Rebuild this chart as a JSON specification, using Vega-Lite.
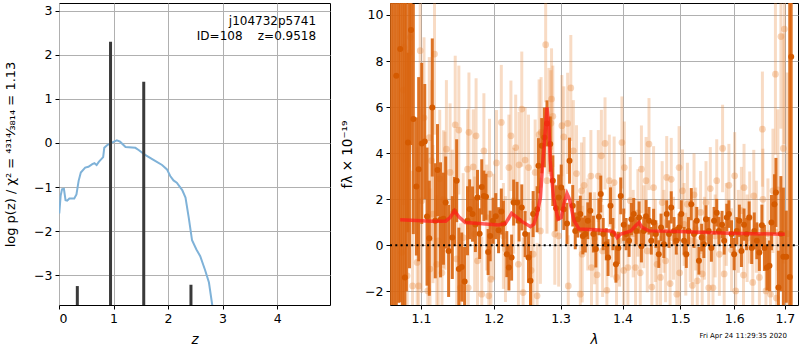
{
  "$schema": "https://vega.github.io/schema/vega-lite/v6.json",
  "padding": {"left": 4, "top": 2, "right": 0, "bottom": 0},
  "bounds": "flush",
  "spacing": 60,
  "config": {
    "font": "DejaVu Sans",
    "view": {"stroke": "black", "strokeWidth": 1},
    "axis": {"grid": true, "gridColor": "#b0b0b0", "gridWidth": 1, "domain": false, "tickColor": "black", "tickSize": 4, "labelColor": "black", "labelFontSize": 12.5, "labelPadding": 3, "titleFontSize": 13.5, "titleFontWeight": "normal", "titleColor": "black"}
  },
  "datasets": {
    "pz": [
      {"z":0.005,"v":-1.6},{"z":0.03,"v":-1.2},{"z":0.055,"v":-1.05},{"z":0.09,"v":-1.04},{"z":0.12,"v":-1.3},{"z":0.15,"v":-1.31},{"z":0.19,"v":-1.26},{"z":0.28,"v":-1.26},{"z":0.32,"v":-1.17},{"z":0.36,"v":-0.86},{"z":0.4,"v":-0.67},{"z":0.48,"v":-0.56},{"z":0.54,"v":-0.54},{"z":0.61,"v":-0.48},{"z":0.65,"v":-0.46},{"z":0.69,"v":-0.5},{"z":0.73,"v":-0.43},{"z":0.81,"v":-0.32},{"z":0.83,"v":-0.11},{"z":0.88,"v":-0.05},{"z":0.97,"v":0.01},{"z":1.06,"v":0.06},{"z":1.12,"v":0.03},{"z":1.22,"v":-0.09},{"z":1.4,"v":-0.11},{"z":1.46,"v":-0.16},{"z":1.58,"v":-0.27},{"z":1.74,"v":-0.39},{"z":1.89,"v":-0.5},{"z":1.98,"v":-0.6},{"z":2.04,"v":-0.75},{"z":2.1,"v":-0.85},{"z":2.16,"v":-0.9},{"z":2.26,"v":-1.07},{"z":2.32,"v":-1.24},{"z":2.38,"v":-1.7},{"z":2.44,"v":-2.21},{"z":2.52,"v":-2.42},{"z":2.59,"v":-2.57},{"z":2.68,"v":-2.89},{"z":2.75,"v":-3.17},{"z":2.81,"v":-3.68},{"z":2.86,"v":-4.1}
    ],
    "peaks": [
      {"z":0.336,"v":-3.25,"b":-4.5},{"z":0.945,"v":2.3,"b":-4.5},{"z":1.554,"v":1.39,"b":-4.5},{"z":2.42,"v":-3.22,"b":-4.5}
    ],
    "info": [
      {"z":4.716,"v":2.78,"t":"j104732p5741"},{"z":4.716,"v":2.44,"t":"ID=108\u00a0\u00a0\u00a0\u00a0z=0.9518"}
    ],
    "dark": [
      {"l":1.062,"f":11,"e":14},{"l":1.065,"f":12,"e":15},{"l":1.068,"f":7.36,"e":10},{"l":1.071,"f":11.5,"e":14},{"l":1.073,"f":8.52,"e":11},{"l":1.076,"f":13,"e":16},{"l":1.079,"f":-1.41,"e":12},{"l":1.081,"f":12,"e":14},{"l":1.083,"f":4.46,"e":3.9},{"l":1.085,"f":11,"e":12},{"l":1.087,"f":9.35,"e":5},{"l":1.09,"f":5.48,"e":5},{"l":1.094,"f":2.55,"e":3},{"l":1.097,"f":3.3,"e":4},{"l":1.101,"f":4.42,"e":3.5},{"l":1.105,"f":4.5,"e":2.5},{"l":1.108,"f":1.24,"e":3},{"l":1.111,"f":0.3,"e":2.5},{"l":1.115,"f":5.98,"e":3},{"l":1.119,"f":1.06,"e":2.5},{"l":1.122,"f":3.26,"e":2},{"l":1.126,"f":1.1,"e":2.5},{"l":1.13,"f":1.15,"e":2},{"l":1.133,"f":1.85,"e":2},{"l":1.137,"f":-0.25,"e":2},{"l":1.142,"f":0.33,"e":1.8},{"l":1.145,"f":1.46,"e":1.5},{"l":1.148,"f":2.8,"e":1.8},{"l":1.151,"f":-1.04,"e":1.8},{"l":1.155,"f":-0.95,"e":1.5},{"l":1.159,"f":-1.58,"e":1.5},{"l":1.163,"f":1.06,"e":1.5},{"l":1.166,"f":1.56,"e":1.3},{"l":1.17,"f":1.35,"e":1.2},{"l":1.174,"f":0.9,"e":1.2},{"l":1.177,"f":2.07,"e":1.2},{"l":1.18,"f":0.5,"e":1.1},{"l":1.183,"f":2.53,"e":1.2},{"l":1.186,"f":2.14,"e":1.1},{"l":1.189,"f":2.1,"e":1},{"l":1.192,"f":-0.3,"e":1},{"l":1.195,"f":0.4,"e":1.1},{"l":1.199,"f":1.06,"e":1},{"l":1.203,"f":1.26,"e":1},{"l":1.207,"f":0.65,"e":1},{"l":1.211,"f":1.46,"e":1},{"l":1.214,"f":0.93,"e":1},{"l":1.219,"f":-0.39,"e":1},{"l":1.222,"f":-0.97,"e":1},{"l":1.226,"f":-0.54,"e":1},{"l":1.229,"f":1.85,"e":1},{"l":1.234,"f":1.85,"e":0.9},{"l":1.237,"f":1.06,"e":0.9},{"l":1.241,"f":1.64,"e":1},{"l":1.246,"f":0.48,"e":1},{"l":1.251,"f":-0.54,"e":1.1},{"l":1.254,"f":-1.55,"e":1.3},{"l":1.258,"f":1.35,"e":1},{"l":1.264,"f":1.56,"e":1},{"l":1.266,"f":3.45,"e":1.2},{"l":1.271,"f":4.32,"e":1.2},{"l":1.275,"f":4.68,"e":1.3},{"l":1.279,"f":5.29,"e":1},{"l":1.284,"f":4.39,"e":1.2},{"l":1.288,"f":2.8,"e":1.1},{"l":1.293,"f":1.6,"e":1},{"l":1.297,"f":2.07,"e":1},{"l":1.301,"f":2.5,"e":1},{"l":1.305,"f":1.56,"e":0.9},{"l":1.31,"f":0.94,"e":0.9},{"l":1.314,"f":3.67,"e":1},{"l":1.319,"f":1.71,"e":0.9},{"l":1.323,"f":0.62,"e":0.8},{"l":1.327,"f":1.13,"e":0.8},{"l":1.331,"f":1.35,"e":0.8},{"l":1.335,"f":0.4,"e":0.8},{"l":1.339,"f":0.48,"e":0.8},{"l":1.343,"f":1.06,"e":0.8},{"l":1.347,"f":1.49,"e":0.8},{"l":1.352,"f":0.48,"e":0.8},{"l":1.356,"f":-0.17,"e":0.8},{"l":1.361,"f":1.23,"e":0.8},{"l":1.364,"f":2.22,"e":0.8},{"l":1.368,"f":0.48,"e":0.7},{"l":1.373,"f":0.04,"e":0.7},{"l":1.376,"f":-0.54,"e":0.8},{"l":1.38,"f":1.71,"e":0.8},{"l":1.384,"f":0.48,"e":0.7},{"l":1.389,"f":-0.83,"e":0.8},{"l":1.393,"f":-0.12,"e":0.7},{"l":1.397,"f":2.14,"e":0.8},{"l":1.402,"f":0.89,"e":0.7},{"l":1.406,"f":0.48,"e":0.7},{"l":1.411,"f":0.19,"e":0.7},{"l":1.415,"f":1.13,"e":0.7},{"l":1.419,"f":1.35,"e":0.7},{"l":1.423,"f":0.62,"e":0.6},{"l":1.428,"f":1.2,"e":0.7},{"l":1.432,"f":-0.05,"e":0.7},{"l":1.436,"f":0.62,"e":0.6},{"l":1.44,"f":1.26,"e":0.7},{"l":1.445,"f":1.06,"e":0.6},{"l":1.449,"f":0.19,"e":0.6},{"l":1.453,"f":0.98,"e":0.6},{"l":1.457,"f":0.48,"e":0.6},{"l":1.462,"f":-0.39,"e":0.6},{"l":1.466,"f":0.77,"e":0.6},{"l":1.471,"f":0.04,"e":0.6},{"l":1.476,"f":1.35,"e":0.6},{"l":1.48,"f":0.48,"e":0.6},{"l":1.484,"f":1.64,"e":0.7},{"l":1.489,"f":0.62,"e":0.6},{"l":1.493,"f":0.19,"e":0.6},{"l":1.498,"f":0.77,"e":0.6},{"l":1.502,"f":1.35,"e":0.6},{"l":1.507,"f":0.19,"e":0.6},{"l":1.511,"f":-0.39,"e":0.6},{"l":1.515,"f":0.62,"e":0.6},{"l":1.52,"f":1.78,"e":0.7},{"l":1.525,"f":0.48,"e":0.6},{"l":1.53,"f":1.06,"e":0.6},{"l":1.534,"f":-0.68,"e":0.6},{"l":1.539,"f":0.33,"e":0.6},{"l":1.543,"f":0.04,"e":0.6},{"l":1.547,"f":1.13,"e":0.6},{"l":1.552,"f":0.62,"e":0.6},{"l":1.557,"f":-0.12,"e":0.6},{"l":1.562,"f":1.06,"e":0.6},{"l":1.567,"f":1.41,"e":0.6},{"l":1.571,"f":0.62,"e":0.6},{"l":1.577,"f":0.89,"e":0.6},{"l":1.581,"f":0.19,"e":0.6},{"l":1.586,"f":1.2,"e":0.6},{"l":1.59,"f":1.35,"e":0.6},{"l":1.595,"f":0.48,"e":0.6},{"l":1.6,"f":-0.39,"e":0.7},{"l":1.605,"f":0.62,"e":0.6},{"l":1.61,"f":1.06,"e":0.7},{"l":1.614,"f":-0.25,"e":0.7},{"l":1.619,"f":0.89,"e":0.7},{"l":1.624,"f":0.48,"e":0.7},{"l":1.629,"f":1.2,"e":0.7},{"l":1.634,"f":-0.12,"e":0.7},{"l":1.639,"f":0.62,"e":0.8},{"l":1.644,"f":0.19,"e":0.8},{"l":1.649,"f":-0.32,"e":0.8},{"l":1.654,"f":0.86,"e":0.9},{"l":1.659,"f":-0.12,"e":1},{"l":1.664,"f":-0.97,"e":1},{"l":1.669,"f":-0.9,"e":1.1},{"l":1.673,"f":0.98,"e":1.2},{"l":1.679,"f":1.78,"e":1.3},{"l":1.682,"f":2.29,"e":1.5},{"l":1.687,"f":-1.84,"e":1.6},{"l":1.692,"f":0.5,"e":2.5},{"l":1.697,"f":-0.5,"e":3},{"l":1.703,"f":-0.5,"e":2},{"l":1.71,"f":-1.38,"e":14},{"l":1.713,"f":8.19,"e":14}
    ],
    "light": [
      {"l":1.075,"f":-0.32,"e":6},{"l":1.077,"f":6.74,"e":5},{"l":1.078,"f":8.6,"e":5},{"l":1.082,"f":-1.33,"e":6},{"l":1.085,"f":8.37,"e":5},{"l":1.086,"f":9.03,"e":5},{"l":1.089,"f":-1.77,"e":5},{"l":1.095,"f":-0.75,"e":5},{"l":1.097,"f":-1.77,"e":5},{"l":1.099,"f":8.45,"e":4},{"l":1.101,"f":1.93,"e":4},{"l":1.104,"f":5.53,"e":3.5},{"l":1.109,"f":-1.99,"e":3.5},{"l":1.111,"f":4.67,"e":3.5},{"l":1.112,"f":-1.04,"e":3.5},{"l":1.114,"f":3.67,"e":3.5},{"l":1.116,"f":1.35,"e":3},{"l":1.118,"f":8.3,"e":3.5},{"l":1.121,"f":-0.83,"e":3},{"l":1.123,"f":0.19,"e":3},{"l":1.125,"f":2.88,"e":3},{"l":1.128,"f":-1.2,"e":3},{"l":1.13,"f":1.99,"e":3},{"l":1.132,"f":1.93,"e":3},{"l":1.134,"f":4.17,"e":3},{"l":1.139,"f":3.16,"e":3},{"l":1.142,"f":1.35,"e":2.8},{"l":1.146,"f":5.23,"e":3},{"l":1.148,"f":-0.6,"e":2.8},{"l":1.151,"f":5,"e":2.8},{"l":1.153,"f":-1.85,"e":2.8},{"l":1.157,"f":0.33,"e":2.8},{"l":1.163,"f":3.3,"e":2.6},{"l":1.164,"f":-1.85,"e":2.6},{"l":1.165,"f":4.9,"e":2.6},{"l":1.171,"f":3.4,"e":2.5},{"l":1.173,"f":0.48,"e":2.5},{"l":1.175,"f":4.75,"e":2.5},{"l":1.177,"f":-0.68,"e":2.5},{"l":1.183,"f":-2.13,"e":2.5},{"l":1.186,"f":4.1,"e":2.5},{"l":1.19,"f":1.2,"e":2.3},{"l":1.193,"f":-2.2,"e":2.5},{"l":1.194,"f":3.09,"e":2.4},{"l":1.196,"f":-1.48,"e":2.3},{"l":1.2,"f":0.8,"e":2.3},{"l":1.204,"f":3.57,"e":2.3},{"l":1.211,"f":5.33,"e":2.5},{"l":1.214,"f":0.4,"e":2.3},{"l":1.217,"f":-0.17,"e":2.3},{"l":1.222,"f":3.37,"e":2.3},{"l":1.225,"f":4.75,"e":2.4},{"l":1.229,"f":1.93,"e":2.3},{"l":1.232,"f":4.24,"e":2.3},{"l":1.236,"f":-0.83,"e":2.3},{"l":1.237,"f":3.49,"e":2.3},{"l":1.241,"f":5.91,"e":2.5},{"l":1.243,"f":-2.06,"e":2.4},{"l":1.246,"f":3.7,"e":2.3},{"l":1.251,"f":3.37,"e":2.3},{"l":1.255,"f":-1.1,"e":2.3},{"l":1.258,"f":-0.39,"e":2.3},{"l":1.261,"f":3.16,"e":2.3},{"l":1.264,"f":-2.2,"e":2.3},{"l":1.267,"f":4.8,"e":2.4},{"l":1.269,"f":0.62,"e":2.3},{"l":1.27,"f":4.9,"e":2.4},{"l":1.277,"f":8.71,"e":2.5},{"l":1.279,"f":2.8,"e":2.3},{"l":1.282,"f":5.4,"e":2.3},{"l":1.285,"f":5.3,"e":2.3},{"l":1.286,"f":6.35,"e":2.2},{"l":1.288,"f":5.6,"e":2.2},{"l":1.291,"f":0.48,"e":2.2},{"l":1.297,"f":0.4,"e":2.2},{"l":1.302,"f":5.19,"e":2.2},{"l":1.305,"f":4.7,"e":2.2},{"l":1.311,"f":5.29,"e":2.2},{"l":1.312,"f":-1.77,"e":2.2},{"l":1.316,"f":6.83,"e":2.3},{"l":1.32,"f":4.1,"e":2.2},{"l":1.325,"f":3.11,"e":2.1},{"l":1.331,"f":-2.13,"e":2.1},{"l":1.333,"f":2.36,"e":2.1},{"l":1.334,"f":-0.39,"e":2.1},{"l":1.337,"f":2.6,"e":2.1},{"l":1.343,"f":0.9,"e":2},{"l":1.348,"f":3,"e":2},{"l":1.349,"f":-0.97,"e":2},{"l":1.354,"f":0.3,"e":2},{"l":1.358,"f":-1.29,"e":2},{"l":1.36,"f":3,"e":2},{"l":1.365,"f":3.88,"e":2},{"l":1.367,"f":-0.25,"e":2},{"l":1.371,"f":4.42,"e":2},{"l":1.374,"f":-1.96,"e":2},{"l":1.378,"f":2.8,"e":2},{"l":1.382,"f":0.6,"e":2},{"l":1.386,"f":2.72,"e":2},{"l":1.39,"f":-1.4,"e":2},{"l":1.395,"f":0.2,"e":2},{"l":1.399,"f":4.46,"e":2},{"l":1.402,"f":-1.1,"e":2},{"l":1.403,"f":3.37,"e":2},{"l":1.409,"f":-0.97,"e":1.9},{"l":1.413,"f":1.93,"e":1.9},{"l":1.418,"f":0.5,"e":1.9},{"l":1.422,"f":-0.97,"e":1.9},{"l":1.426,"f":1.4,"e":1.9},{"l":1.43,"f":-1.2,"e":1.9},{"l":1.432,"f":3.3,"e":1.9},{"l":1.436,"f":0.8,"e":1.8},{"l":1.44,"f":2.8,"e":1.9},{"l":1.442,"f":-0.25,"e":1.8},{"l":1.445,"f":4.39,"e":2},{"l":1.45,"f":-1.82,"e":1.8},{"l":1.453,"f":2.5,"e":1.8},{"l":1.456,"f":0.2,"e":1.8},{"l":1.459,"f":-0.83,"e":1.8},{"l":1.465,"f":-1.4,"e":1.8},{"l":1.468,"f":1.85,"e":1.8},{"l":1.471,"f":0.6,"e":1.8},{"l":1.474,"f":-0.68,"e":1.8},{"l":1.476,"f":2.94,"e":1.8},{"l":1.482,"f":-1.67,"e":1.8},{"l":1.484,"f":2.86,"e":1.8},{"l":1.488,"f":0.3,"e":1.8},{"l":1.494,"f":-2.13,"e":1.8},{"l":1.498,"f":3.37,"e":1.8},{"l":1.499,"f":-1.2,"e":1.8},{"l":1.504,"f":2.36,"e":1.8},{"l":1.507,"f":0.9,"e":1.8},{"l":1.51,"f":-0.39,"e":1.8},{"l":1.513,"f":1.78,"e":1.8},{"l":1.518,"f":0.2,"e":1.8},{"l":1.522,"f":-1.75,"e":1.8},{"l":1.525,"f":2.19,"e":1.8},{"l":1.528,"f":0.7,"e":1.8},{"l":1.531,"f":-1.55,"e":1.8},{"l":1.537,"f":1.42,"e":1.8},{"l":1.54,"f":-1.25,"e":1.8},{"l":1.544,"f":0.3,"e":1.8},{"l":1.547,"f":1.85,"e":1.8},{"l":1.552,"f":-1.85,"e":1.8},{"l":1.555,"f":2.46,"e":1.8},{"l":1.56,"f":-1.85,"e":1.8},{"l":1.564,"f":0.4,"e":1.8},{"l":1.567,"f":2.8,"e":1.8},{"l":1.572,"f":-0.4,"e":1.8},{"l":1.578,"f":4.2,"e":1.9},{"l":1.581,"f":-1.25,"e":1.8},{"l":1.585,"f":0.9,"e":1.8},{"l":1.59,"f":2.6,"e":1.8},{"l":1.595,"f":-0.2,"e":1.8},{"l":1.601,"f":3.01,"e":1.9},{"l":1.603,"f":-1.99,"e":1.8},{"l":1.608,"f":0.6,"e":1.8},{"l":1.614,"f":1.5,"e":1.9},{"l":1.618,"f":-1.3,"e":1.9},{"l":1.619,"f":2.5,"e":1.9},{"l":1.625,"f":0.3,"e":1.9},{"l":1.63,"f":1.2,"e":2},{"l":1.636,"f":-1.62,"e":2},{"l":1.638,"f":2.14,"e":2},{"l":1.643,"f":0.8,"e":2},{"l":1.649,"f":-1.4,"e":2.1},{"l":1.655,"f":5.04,"e":2.5},{"l":1.656,"f":1.99,"e":2.2},{"l":1.662,"f":-1.99,"e":2.3},{"l":1.666,"f":0.5,"e":2.4},{"l":1.671,"f":-2.13,"e":2.5},{"l":1.676,"f":2.36,"e":2.7},{"l":1.681,"f":7.43,"e":3.5},{"l":1.683,"f":-2.3,"e":3},{"l":1.686,"f":2.4,"e":3.5},{"l":1.692,"f":9.06,"e":4},{"l":1.697,"f":4.2,"e":5},{"l":1.699,"f":9.39,"e":5},{"l":1.705,"f":0.5,"e":7}
    ],
    "model": [
      {"l":1.073,"f":1.1},{"l":1.115,"f":1.04},{"l":1.133,"f":1.04},{"l":1.139,"f":1.2},{"l":1.145,"f":1.49},{"l":1.151,"f":1.23},{"l":1.16,"f":0.98},{"l":1.179,"f":0.94},{"l":1.207,"f":0.88},{"l":1.217,"f":0.94},{"l":1.226,"f":1.38},{"l":1.232,"f":1.25},{"l":1.241,"f":1.03},{"l":1.254,"f":0.8},{"l":1.259,"f":0.91},{"l":1.264,"f":1.35},{"l":1.269,"f":2.07},{"l":1.272,"f":3.37},{"l":1.276,"f":4.83},{"l":1.279,"f":5.98},{"l":1.282,"f":5.11},{"l":1.284,"f":3.67},{"l":1.289,"f":2.07},{"l":1.296,"f":1.13},{"l":1.301,"f":1.2},{"l":1.305,"f":1.78},{"l":1.31,"f":2.24},{"l":1.314,"f":1.99},{"l":1.321,"f":1.06},{"l":1.329,"f":0.7},{"l":1.355,"f":0.67},{"l":1.38,"f":0.62},{"l":1.386,"f":0.55},{"l":1.391,"f":0.33},{"l":1.397,"f":0.48},{"l":1.414,"f":0.62},{"l":1.422,"f":0.84},{"l":1.428,"f":0.98},{"l":1.433,"f":0.77},{"l":1.445,"f":0.62},{"l":1.498,"f":0.59},{"l":1.59,"f":0.52},{"l":1.7,"f":0.47}
    ],
    "zero": [{"l":1.06,"f":0},{"l":1.727,"f":0}]
  },
  "hconcat": [
    {
      "width": 271,
      "height": 302,
      "encoding": {
        "x": {"field": "z", "type": "quantitative", "scale": {"domain": [0, 4.97], "nice": false, "zero": false}, "axis": {"values": [0,1,2,3,4], "title": "z", "titleFontStyle": "italic", "titlePadding": 8}},
        "y": {"field": "v", "type": "quantitative", "scale": {"domain": [-3.68, 3.18], "nice": false, "zero": false}, "axis": {"values": [-3,-2,-1,0,1,2,3], "title": "log p(z) / χ² = ⁴³¹⁴⁄₃₈₁₄ = 1.13", "titleFontSize": 13, "titlePadding": 16}}
      },
      "layer": [
        {"data": {"name": "pz"}, "mark": {"type": "line", "color": "#7fb2d8", "strokeWidth": 2, "clip": true}},
        {"data": {"name": "peaks"}, "mark": {"type": "rule", "color": "#3a3a3a", "strokeWidth": 3, "clip": true}, "encoding": {"y2": {"field": "b"}}},
        {"data": {"name": "info"}, "mark": {"type": "text", "align": "right", "baseline": "middle", "fontSize": 12, "color": "black"}, "encoding": {"text": {"field": "t"}}}
      ]
    },
    {
      "width": 408,
      "height": 302,
      "title": {"text": "Fri Apr 24 11:29:35 2020", "orient": "bottom", "anchor": "end", "frame": "group", "fontSize": 7, "fontWeight": "normal", "color": "black", "offset": -14, "dx": -11},
      "encoding": {
        "x": {"field": "l", "type": "quantitative", "scale": {"type": "log", "domain": [1.06, 1.727], "nice": false, "zero": false}, "axis": {"values": [1.1,1.2,1.3,1.4,1.5,1.6,1.7], "format": ".1f", "title": "λ", "titleFontStyle": "italic", "titlePadding": 8}},
        "y": {"field": "f", "type": "quantitative", "scale": {"domain": [-2.6, 10.52], "nice": false, "zero": false}, "axis": {"values": [-2,0,2,4,6,8,10], "title": "fλ × 10⁻¹⁹", "titlePadding": 10}}
      },
      "layer": [
        {"data": {"name": "light"}, "mark": {"type": "errorbar", "color": "#e8873a", "opacity": 0.3, "thickness": 3, "clip": true}, "encoding": {"yError": {"field": "e"}}},
        {"data": {"name": "light"}, "mark": {"type": "circle", "color": "#e8873a", "opacity": 0.35, "size": 45, "clip": true}},
        {"data": {"name": "dark"}, "mark": {"type": "errorbar", "color": "#d9650f", "opacity": 0.9, "thickness": 3, "clip": true}, "encoding": {"yError": {"field": "e"}}},
        {"data": {"name": "dark"}, "mark": {"type": "circle", "color": "#d45a00", "opacity": 1, "size": 36, "clip": true}},
        {"data": {"name": "model"}, "mark": {"type": "line", "color": "#ff1a1a", "opacity": 0.7, "strokeWidth": 3.5, "clip": true}},
        {"data": {"name": "zero"}, "mark": {"type": "line", "color": "black", "strokeWidth": 2, "strokeDash": [2, 3.3], "clip": true}}
      ]
    }
  ]
}
